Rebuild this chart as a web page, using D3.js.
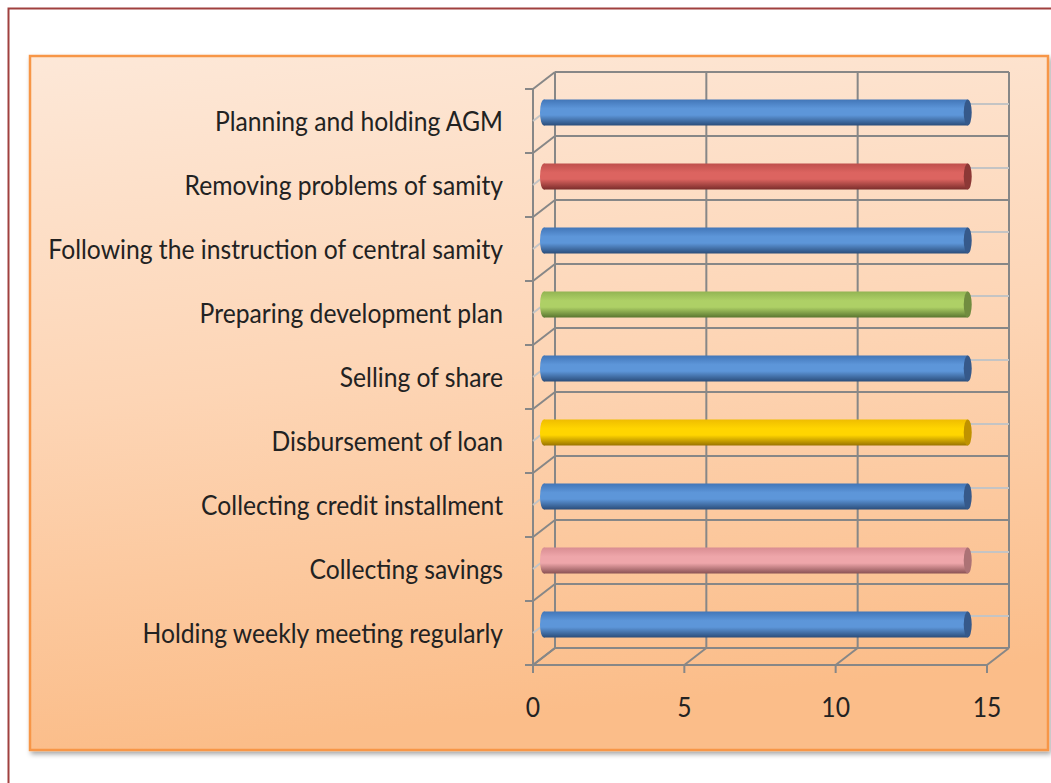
<!DOCTYPE html>
<html>
<head>
<meta charset="utf-8">
<script src="https://cdn.jsdelivr.net/npm/d3@7"></script>
<style>
  body { margin: 0; background: #fff; }
  svg text { font-family: Lato, "Open Sans", sans-serif; fill: #222; }
</style>
</head>
<body>
<svg id="chart" width="1051" height="783"></svg>
<script>
// categories top to bottom, as in the picture
const categories = [
    "Planning and holding AGM",
    "Removing problems of samity",
    "Following the instruction of central samity",
    "Preparing development plan",
    "Selling of share",
    "Disbursement of loan",
    "Collecting credit installment",
    "Collecting savings",
    "Holding weekly meeting regularly"
];
const values = [14, 14, 14, 14, 14, 14, 14, 14, 14];
const barColors = ["blue", "red", "blue", "green", "blue", "yellow", "blue", "pink", "blue"];
const xTicks = [0, 5, 10, 15];

// shading for each cylinder colour: top, light, bottom, cap
const shades = {
    blue:   ["#4276b8", "#5d96d9", "#2b4d7a", "#36598a"],
    red:    ["#bf4f4c", "#dc6460", "#7a2d2b", "#8c3836"],
    green:  ["#92b453", "#aed066", "#5a7630", "#718c40"],
    yellow: ["#efbd00", "#ffd500", "#9a7300", "#bf9200"],
    pink:   ["#d98d92", "#eea6aa", "#8a5254", "#ac7275"]
};

const svg = d3.select("#chart");
const defs = svg.append("defs");

// background box gradient + shadow
const bg = defs.append("linearGradient").attr("id", "bg")
    .attr("x1", 0).attr("y1", 0).attr("x2", 0.15).attr("y2", 1);
bg.append("stop").attr("offset", 0).attr("stop-color", "#fde8d8");
bg.append("stop").attr("offset", 0.5).attr("stop-color", "#fdd5b5");
bg.append("stop").attr("offset", 1).attr("stop-color", "#fbbd89");

const shadow = defs.append("filter").attr("id", "shadow")
    .attr("x", -0.05).attr("y", -0.05).attr("width", 1.1).attr("height", 1.1);
shadow.append("feDropShadow").attr("dx", 2).attr("dy", 3).attr("stdDeviation", 2.5)
    .attr("flood-color", "#000").attr("flood-opacity", 0.35);

Object.entries(shades).forEach(([name, s]) => {
    const g = defs.append("linearGradient").attr("id", "cyl-" + name)
        .attr("x1", 0).attr("y1", 0).attr("x2", 0).attr("y2", 1);
    g.append("stop").attr("offset", 0).attr("stop-color", s[0]);
    g.append("stop").attr("offset", 0.35).attr("stop-color", s[1]);
    g.append("stop").attr("offset", 0.6).attr("stop-color", s[1]);
    g.append("stop").attr("offset", 1).attr("stop-color", s[2]);
});

// outer frame
svg.append("rect")
    .attr("x", 8.5).attr("y", 8.5).attr("width", 1060).attr("height", 800)
    .attr("fill", "#fff").attr("stroke", "#a0403f").attr("stroke-width", 2);

// chart area
svg.append("rect")
    .attr("x", 30).attr("y", 56).attr("width", 1018).attr("height", 694)
    .attr("fill", "url(#bg)").attr("stroke", "#f79646").attr("stroke-width", 2.5)
    .attr("filter", "url(#shadow)");

// 3d geometry
const depthX = 22, depthY = -17;
const x = d3.scaleLinear().domain([0, 15]).range([533, 987]);
const y = d3.scaleBand().domain(categories).range([72 - depthY, 648 - depthY]); // front plane
const bounds = d3.range(categories.length + 1).map(i => y.range()[0] + i * y.step());

const grid = svg.append("g").attr("stroke", "#878787").attr("stroke-width", 2).attr("fill", "none");

// back wall
grid.selectAll(".vback").data(xTicks).join("line")
    .attr("x1", d => x(d) + depthX).attr("x2", d => x(d) + depthX)
    .attr("y1", bounds[0] + depthY).attr("y2", bounds[bounds.length - 1] + depthY);
grid.selectAll(".hback").data(bounds).join("line")
    .attr("x1", x(0) + depthX).attr("x2", x(15) + depthX)
    .attr("y1", d => d + depthY).attr("y2", d => d + depthY);

// light center lines on back and side wall
const light = svg.append("g").attr("stroke", "#c4c4c4").attr("stroke-width", 2);
light.selectAll("line.c").data(categories).join("line")
    .attr("x1", x(0) + depthX).attr("x2", x(15) + depthX)
    .attr("y1", d => y(d) + y.bandwidth() / 2 + depthY)
    .attr("y2", d => y(d) + y.bandwidth() / 2 + depthY);
light.selectAll("line.s").data(categories).join("line")
    .attr("x1", x(0)).attr("x2", x(0) + depthX)
    .attr("y1", d => y(d) + y.bandwidth() / 2)
    .attr("y2", d => y(d) + y.bandwidth() / 2 + depthY);

// side wall
grid.append("line")
    .attr("x1", x(0)).attr("x2", x(0))
    .attr("y1", bounds[0]).attr("y2", bounds[bounds.length - 1] + 8);
grid.selectAll(".dside").data(bounds).join("line")
    .attr("x1", x(0)).attr("x2", x(0) + depthX)
    .attr("y1", d => d).attr("y2", d => d + depthY);
grid.selectAll(".tick").data(bounds).join("line")
    .attr("x1", x(0) - 8).attr("x2", x(0))
    .attr("y1", d => d).attr("y2", d => d);

// floor
const floorY = bounds[bounds.length - 1];
grid.append("line")
    .attr("x1", x(0)).attr("x2", x(15)).attr("y1", floorY).attr("y2", floorY);
grid.selectAll(".dfloor").data(xTicks).join("line")
    .attr("x1", d => x(d)).attr("x2", d => x(d) + depthX)
    .attr("y1", floorY).attr("y2", floorY + depthY);
grid.selectAll(".xtick").data(xTicks).join("line")
    .attr("x1", d => x(d)).attr("x2", d => x(d))
    .attr("y1", floorY).attr("y2", floorY + 8);

// cylinders, drawn at mid depth
const barH = 26, capRx = 4;
const bars = svg.append("g").selectAll("g").data(categories).join("g")
    .attr("transform", (d, i) =>
        `translate(0,${y(d) + y.bandwidth() / 2 + depthY / 2})`);
bars.append("ellipse")
    .attr("cx", x(0) + depthX / 2).attr("cy", 0)
    .attr("rx", capRx).attr("ry", barH / 2)
    .attr("fill", (d, i) => `url(#cyl-${barColors[i]})`);
bars.append("rect")
    .attr("x", x(0) + depthX / 2).attr("y", -barH / 2)
    .attr("width", (d, i) => x(values[i]) - x(0)).attr("height", barH)
    .attr("fill", (d, i) => `url(#cyl-${barColors[i]})`);
bars.append("ellipse")
    .attr("cx", (d, i) => x(values[i]) + depthX / 2).attr("cy", 0)
    .attr("rx", capRx).attr("ry", barH / 2)
    .attr("fill", (d, i) => shades[barColors[i]][3]);

// labels
const labels = svg.append("g").selectAll("text").data(categories).join("text")
    .attr("text-anchor", "end")
    .attr("dominant-baseline", "central")
    .attr("font-size", 22)
    .text(d => d);

// fit widest label to the picture width
const widest = d3.max(labels.nodes(), n => n.getComputedTextLength());
const fs = 22 * 455 / widest;
labels.attr("font-size", fs)
    .attr("transform", d => `translate(503,${y(d) + y.bandwidth() / 2}) scale(1,1.1)`);

svg.append("g").selectAll("text").data(xTicks).join("text")
    .attr("text-anchor", "middle")
    .attr("dominant-baseline", "central")
    .attr("font-size", fs)
    .attr("transform", d => `translate(${x(d)},707) scale(1,1.1)`)
    .text(d => d);
</script>
</body>
</html>
